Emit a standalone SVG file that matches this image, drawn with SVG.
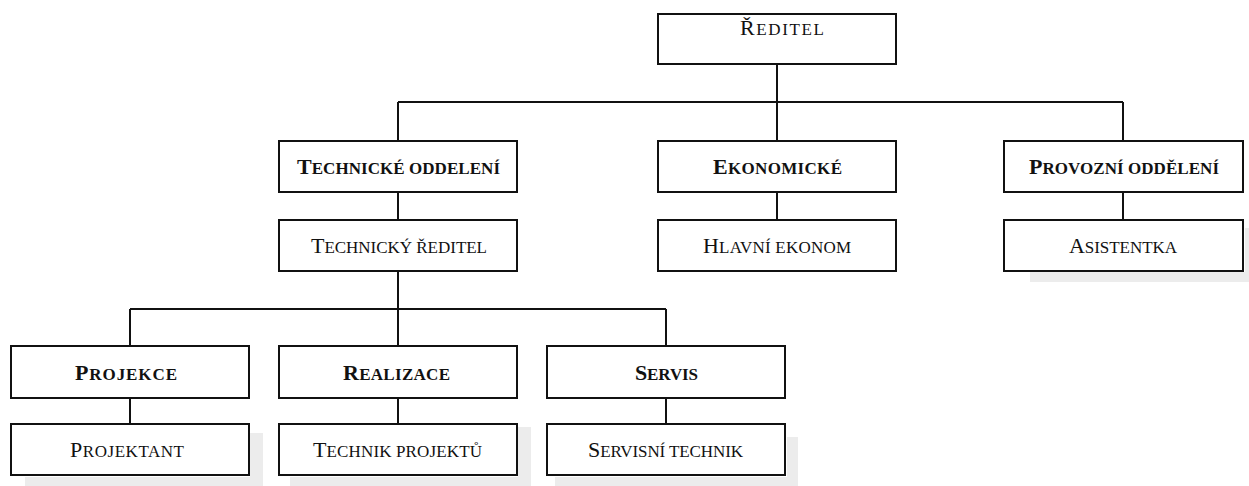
<svg xmlns="http://www.w3.org/2000/svg" width="1249" height="486" viewBox="0 0 1249 486">
<style>
.box{fill:#fff;stroke:#111;stroke-width:2}
.sh{fill:#ececec}
.t{font-family:"Liberation Serif","Times New Roman",serif;font-size:17px;fill:#111;text-anchor:middle}
.b{font-weight:bold}
.L{font-size:22px}
.c{fill:none;stroke:#111;stroke-width:2}
</style>
<rect width="1249" height="486" fill="#fff"/>
<g id="shadows">
<rect class="sh" x="250" y="433" width="13" height="53"/>
<rect class="sh" x="25" y="477" width="238" height="9"/>
<rect class="sh" x="518" y="427" width="13" height="59"/>
<rect class="sh" x="290" y="477" width="241" height="9"/>
<rect class="sh" x="787" y="437" width="11" height="49"/>
<rect class="sh" x="555" y="477" width="243" height="9"/>
<rect class="sh" x="1245" y="228" width="4" height="54"/>
<rect class="sh" x="1030" y="272" width="219" height="10"/>
</g>
<g id="connectors">
<path class="c" d="M777 64V141M398 102H1123M398 102V141M1123 102V141"/>
<path class="c" d="M398 192V220M777 192V220M1123 192V220"/>
<path class="c" d="M398 271V346M130 309H666M130 309V346M666 309V346"/>
<path class="c" d="M130 398V424M398 398V424M666 398V424"/>
</g>
<g id="reditel">
<rect class="box" x="658" y="14" width="238" height="50"/>
<text class="t" x="782" y="35" textLength="84" lengthAdjust="spacing"><tspan class="L">Ř</tspan>EDITEL</text>
</g>
<g id="technicke-oddeleni">
<rect class="box" x="279" y="141" width="238" height="51"/>
<text class="t b" x="398.5" y="173.5" textLength="203" lengthAdjust="spacing"><tspan class="L">T</tspan>ECHNICKÉ ODDELENÍ</text>
</g>
<g id="ekonomicke">
<rect class="box" x="658" y="141" width="238" height="51"/>
<text class="t b" x="777.5" y="173.5" textLength="129" lengthAdjust="spacing"><tspan class="L">E</tspan>KONOMICKÉ</text>
</g>
<g id="provozni-oddeleni">
<rect class="box" x="1004" y="141" width="239" height="51"/>
<text class="t b" x="1124" y="173.5" textLength="190" lengthAdjust="spacing"><tspan class="L">P</tspan>ROVOZNÍ ODDĚLENÍ</text>
</g>
<g id="technicky-reditel">
<rect class="box" x="279" y="220" width="238" height="51"/>
<text class="t" x="399" y="252.5" textLength="176" lengthAdjust="spacing"><tspan class="L">T</tspan>ECHNICKÝ ŘEDITEL</text>
</g>
<g id="hlavni-ekonom">
<rect class="box" x="658" y="220" width="238" height="51"/>
<text class="t" x="777" y="252.5" textLength="148" lengthAdjust="spacing"><tspan class="L">H</tspan>LAVNÍ EKONOM</text>
</g>
<g id="asistentka">
<rect class="box" x="1004" y="220" width="239" height="51"/>
<text class="t" x="1123" y="252.5" textLength="108" lengthAdjust="spacing"><tspan class="L">A</tspan>SISTENTKA</text>
</g>
<g id="projekce">
<rect class="box" x="11" y="346" width="238" height="52"/>
<text class="t b" x="126" y="379.5" textLength="102" lengthAdjust="spacing"><tspan class="L">P</tspan>ROJEKCE</text>
</g>
<g id="realizace">
<rect class="box" x="279" y="346" width="238" height="52"/>
<text class="t b" x="396.5" y="379.5" textLength="107" lengthAdjust="spacing"><tspan class="L">R</tspan>EALIZACE</text>
</g>
<g id="servis">
<rect class="box" x="547" y="346" width="238" height="52"/>
<text class="t b" x="666.5" y="379.5" textLength="63" lengthAdjust="spacing"><tspan class="L">S</tspan>ERVIS</text>
</g>
<g id="projektant">
<rect class="box" x="11" y="424" width="238" height="51"/>
<text class="t" x="127" y="457" textLength="114" lengthAdjust="spacing"><tspan class="L">P</tspan>ROJEKTANT</text>
</g>
<g id="technik-projektu">
<rect class="box" x="279" y="424" width="238" height="51"/>
<text class="t" x="397.5" y="457" textLength="169" lengthAdjust="spacing"><tspan class="L">T</tspan>ECHNIK PROJEKTŮ</text>
</g>
<g id="servisni-technik">
<rect class="box" x="547" y="424" width="238" height="51"/>
<text class="t" x="665.5" y="457" textLength="155" lengthAdjust="spacing"><tspan class="L">S</tspan>ERVISNÍ TECHNIK</text>
</g>
</svg>
